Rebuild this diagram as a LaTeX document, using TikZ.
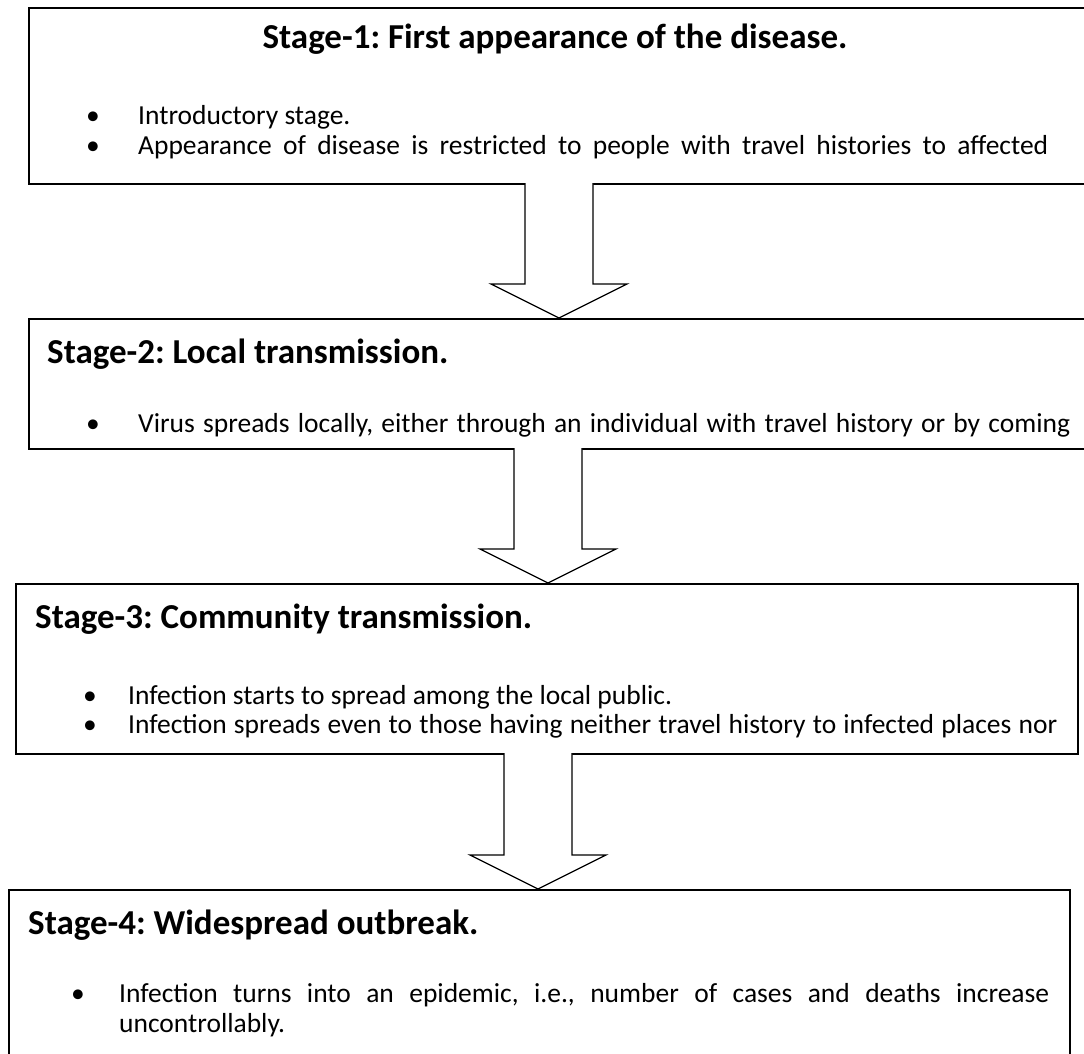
\documentclass[tikz,border=0pt]{standalone}
\usepackage{fontspec}
\setmainfont{Carlito}
\frenchspacing
\begin{document}
\begin{tikzpicture}[x=1pt,y=1pt,
  box/.style={draw=black, line width=1.8pt, fill=white, inner sep=0pt, anchor=north west},
  arr/.style={draw=black, line width=1.2pt, line join=miter, fill=white},
  ttl/.style={font=\fontsize{35}{42}\selectfont\bfseries, inner sep=0pt, anchor=base west},
  body/.style={font=\fontsize{27.5}{33}\selectfont, inner sep=0pt, anchor=base west},
  bul/.style={font=\fontsize{27.5}{33}\selectfont, inner sep=0pt, anchor=base}]
\useasboundingbox (0,0) rectangle (1084,-1053);
\clip (0,0) rectangle (1084,-1053);
\fill[white] (0,0) rectangle (1084,-1053);
% boxes
\node[box, minimum width=1100pt, minimum height=176pt] (b1) at (28,-7) {};
\node[box, minimum width=1100pt, minimum height=130pt] (b2) at (28,-318) {};
\node[box, minimum width=1062pt, minimum height=170pt] (b3) at (15,-583) {};
\node[box, minimum width=1061pt, minimum height=200pt] (b4) at (8,-889) {};
% block arrows
\newcommand\blockarr[3]{%
  \draw[arr] (#1-34,#2) -- (#1-34,#3+34) -- (#1-68,#3+34) -- (#1,#3)
    -- (#1+68,#3+34) -- (#1+34,#3+34) -- (#1+34,#2);}
\coordinate (a1) at (559,-318);
\coordinate (a2) at (548,-583);
\coordinate (a3) at (538,-889);
\blockarr{559}{-183}{-318}
\blockarr{548}{-448}{-583}
\blockarr{538}{-753}{-889}
% stage 1
\node[ttl, anchor=base] (t1) at (555,-48) {Stage-1: First appearance of the disease.};
\node[bul] (p11) at (93,-124) {•};
\node[body] (l11) at (138,-124) {Introductory stage.};
\node[bul] (p12) at (93,-154) {•};
\node[body] (l12) at (138,-154) {\makebox[910pt][s]{Appearance of disease is restricted to people with travel histories to affected}};
% stage 2
\node[ttl] (t2) at (47,-363) {Stage-2: Local transmission.};
\node[bul] (p21) at (93,-432) {•};
\node[body] (l21) at (138,-432) {\makebox[932pt][s]{Virus spreads locally, either through an individual with travel history or by coming}};
% stage 3
\node[ttl] (t3) at (35,-628) {Stage-3: Community transmission.};
\node[bul] (p31) at (90,-704) {•};
\node[body] (l31) at (128,-704) {Infection starts to spread among the local public.};
\node[bul] (p32) at (90,-733) {•};
\node[body] (l32) at (128,-733) {\makebox[929pt][s]{Infection spreads even to those having neither travel history to infected places nor}};
% stage 4
\node[ttl] (t4) at (28,-934) {Stage-4: Widespread outbreak.};
\node[bul] (p41) at (78,-1002) {•};
\node[body] (l41) at (119,-1002) {\makebox[930pt][s]{Infection turns into an epidemic, i.e., number of cases and deaths increase}};
\node[body] (l42) at (119,-1032) {uncontrollably.};
\end{tikzpicture}
\end{document}
